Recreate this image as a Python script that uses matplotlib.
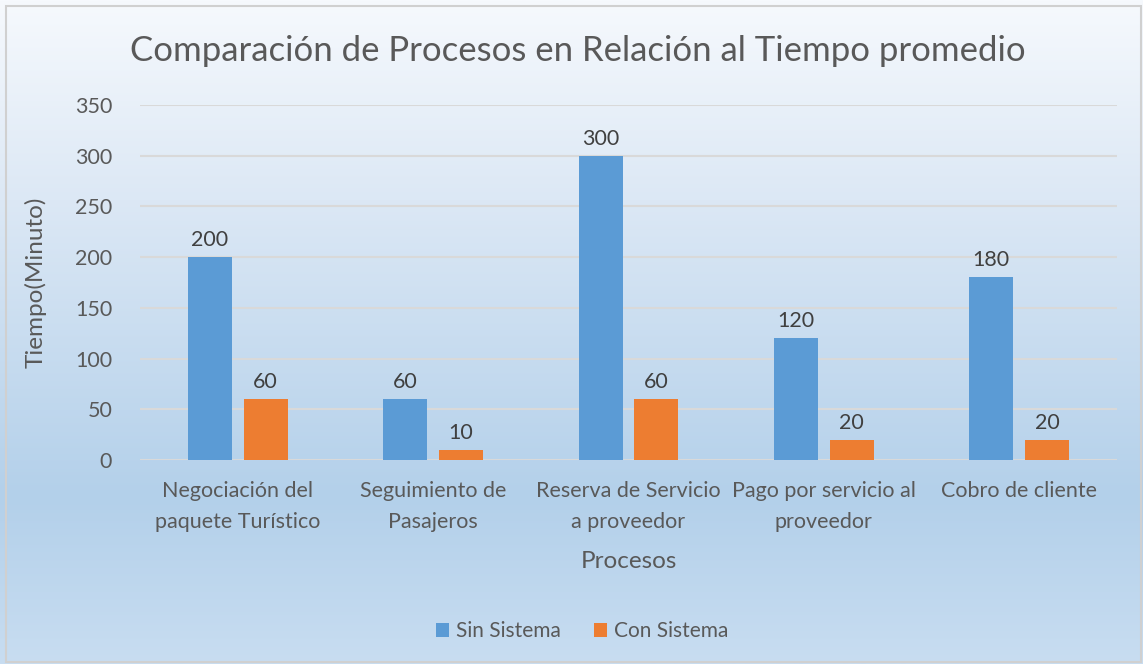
import numpy as np
import matplotlib
matplotlib.use("Agg")
import matplotlib.pyplot as plt
from matplotlib.colors import LinearSegmentedColormap
from matplotlib.patches import Rectangle

plt.rcParams['font.family'] = ['Lato', 'DejaVu Sans']

procesos = ["Negociación del\npaquete Turístico", "Seguimiento de\nPasajeros",
            "Reserva de Servicio\na proveedor", "Pago por servicio al\nproveedor",
            "Cobro de cliente"]
sin_sistema = [200, 60, 300, 120, 180]
con_sistema = [60, 10, 60, 20, 20]
yticks = [0, 50, 100, 150, 200, 250, 300, 350]

W, H = 1143, 664
fig = plt.figure(figsize=(W / 100, H / 100), dpi=100)

# fondo con degradado vertical
bg = fig.add_axes([0, 0, 1, 1], zorder=-10)
grad = LinearSegmentedColormap.from_list(
    "fondo", [(0.0, "#F6F9FD"), (0.30, "#DCE8F5"), (0.75, "#B3D0EA"), (1.0, "#C8DDF1")])
bg.imshow(np.linspace(1, 0, 256).reshape(-1, 1), aspect="auto", cmap=grad,
          extent=[0, 1, 0, 1], origin="lower", vmin=0, vmax=1)
bg.set_xlim(0, 1)
bg.set_ylim(0, 1)
bg.axis("off")
bg.add_patch(Rectangle((6 / W, 2 / H), 1 - 8 / W, 1 - 8 / H, fill=False,
                       edgecolor="#D0D0D0", linewidth=1.5))

ax = fig.add_axes([140 / W, 1 - 460 / H, (1117 - 140) / W, (460 - 105) / H])
ax.set_facecolor("none")

x = np.arange(len(procesos))
bw = 0.225
off = 0.143
b1 = ax.bar(x - off, sin_sistema, bw, color="#5B9BD5", label="Sin Sistema", zorder=3)
b2 = ax.bar(x + off, con_sistema, bw, color="#ED7D31", label="Con Sistema", zorder=3)
for bars in (b1, b2):
    ax.bar_label(bars, padding=5, fontsize=15.5, color="#404040")

ax.set_xlim(-0.5, len(procesos) - 0.5)
ax.set_ylim(0, 350)
ax.set_yticks(yticks)
ax.set_xticks(x)
ax.set_xticklabels(procesos, fontsize=15.5, color="#595959", linespacing=1.7)
ax.tick_params(axis="y", labelsize=15.5, labelcolor="#595959", length=0, pad=20)
ax.tick_params(axis="x", length=0, pad=15)
ax.grid(axis="y", color="#D9D9D9", linewidth=1.5, zorder=0)
for s in ax.spines.values():
    s.set_visible(False)

ax.set_xlabel("Procesos", fontsize=17.5, color="#595959", labelpad=14)
ax.set_ylabel("Tiempo(Minuto)", fontsize=17.5, color="#595959", labelpad=20)

fig.text(578 / W, 1 - 51 / H, "Comparación de Procesos en Relación al Tiempo promedio",
         ha="center", va="center", fontsize=25, color="#595959")

fig.legend(loc="center", bbox_to_anchor=(582 / W, 1 - 631 / H), ncol=2, frameon=False,
           fontsize=15, labelcolor="#595959", handlelength=0.65, handleheight=0.65,
           handletextpad=0.3, columnspacing=1.6)

fig.savefig("out.png", dpi=100)
